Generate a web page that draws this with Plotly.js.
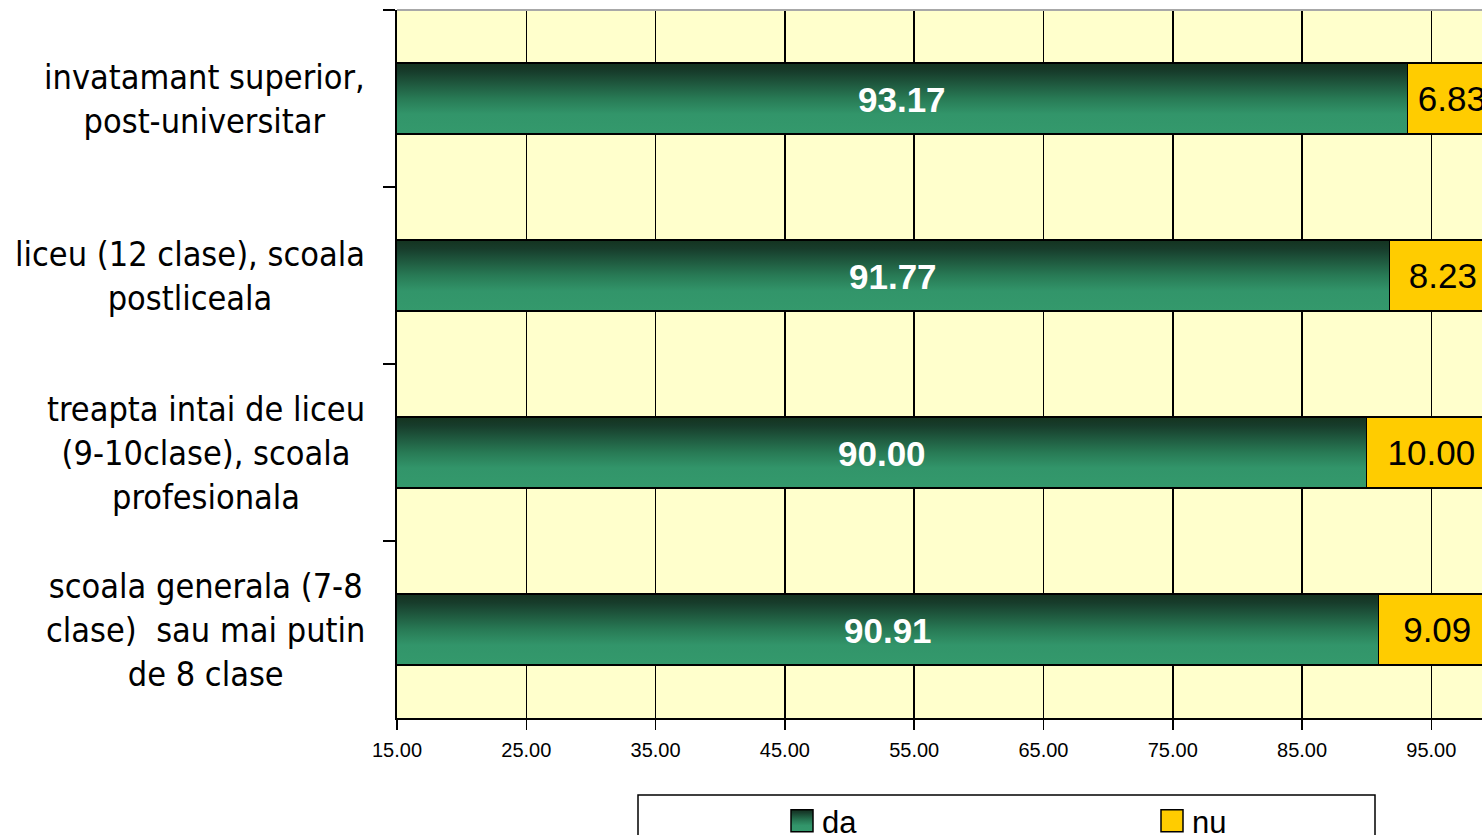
<!DOCTYPE html>
<html>
<head>
<meta charset="utf-8">
<script src="https://cdn.plot.ly/plotly-3.0.1.min.js"></script>
<style>
html,body{margin:0;padding:0;overflow:hidden;background:#fff;}
#chart{width:1496px;height:870px;}
</style>
</head>
<body>
<div id="chart"></div>
<script>
// Data (top-to-bottom order as shown)
const categories = [
  "invatamant superior,<br>post-universitar",
  "liceu (12 clase), scoala<br>postliceala",
  "treapta intai de liceu<br>(9-10clase), scoala<br>profesionala",
  "scoala generala (7-8<br>clase)  sau mai putin<br>de 8 clase"
];
const daValues = [93.17, 91.77, 90.00, 90.91];
const nuValues = [6.83, 8.23, 10.00, 9.09];
const seriesNames = ["da", "nu"];
const xRange = [15, 100];
const xTickStart = 15, xTickStep = 10;

const W = 1496, H = 870;
const L = 397, T = 10, B = H - 718;
const plotW = W - L, plotH = 718 - T;
const px2x = p => (p - L) / plotW;
const px2y = p => (718 - p) / plotH;

const labelFont = "Liberation Sans, Arial, sans-serif";

const data = [
  {
    type: "bar", orientation: "h", name: seriesNames[0],
    y: categories, x: daValues,
    width: 0.4,
    marker: {color: "#2f8f63", line: {color: "#000", width: 1.5}},
    textposition: "none",
    legend: "legend",
    hoverinfo: "none"
  },
  {
    type: "bar", orientation: "h", name: seriesNames[1],
    y: categories, x: nuValues,
    width: 0.4,
    marker: {color: "#ffcc00", line: {color: "#000", width: 1.5}},
    text: nuValues.map(v => v.toFixed(2)),
    textposition: "inside", insidetextanchor: "middle",
    textfont: {family: labelFont, size: 35, color: "#000000"},
    legend: "legend2",
    hoverinfo: "none"
  }
];

// category labels (block right-aligned, lines centered)
const annotations = categories.map(c => ({
  xref: "paper", yref: "y", x: px2x(367), y: c,
  xanchor: "right", yanchor: "middle", align: "center",
  text: c, showarrow: false,
  font: {family: "DejaVu Sans Condensed, DejaVu Sans, sans-serif", size: 34, color: "#000"}
}));
// green value labels centered on the visible part of the bar
daValues.forEach((v, i) => annotations.push({
  xref: "x", yref: "y", x: (xRange[0] + v) / 2, y: categories[i],
  xanchor: "center", yanchor: "middle", yshift: -1,
  text: "<b>" + v.toFixed(2) + "</b>", showarrow: false,
  font: {family: labelFont, size: 35, color: "#ffffff"}
}));

const legendCommon = {
  orientation: "h", xanchor: "left", yanchor: "top",
  y: px2y(794),
  font: {family: labelFont, size: 31, color: "#000"},
  bgcolor: "rgba(0,0,0,0)", borderwidth: 0
};

const layout = {
  width: W, height: H,
  margin: {l: L, r: 0, t: T, b: B, pad: 0, autoexpand: false},
  paper_bgcolor: "#ffffff",
  plot_bgcolor: "#ffffcc",
  barmode: "stack",
  showlegend: true,
  legend: Object.assign({}, legendCommon, {x: px2x(782)}),
  legend2: Object.assign({}, legendCommon, {x: px2x(1152)}),
  xaxis: {
    range: xRange,
    tick0: xTickStart, dtick: xTickStep,
    tickformat: ".2f",
    showgrid: true, gridcolor: "#000", gridwidth: 1.5,
    showline: true, linecolor: "#000", linewidth: 2,
    ticks: "outside", ticklen: 10, tickwidth: 1.5, tickcolor: "#000",
    ticklabelstandoff: 3,
    tickfont: {family: labelFont, size: 20, color: "#000"},
    zeroline: false, fixedrange: true
  },
  yaxis: {
    type: "category",
    autorange: "reversed",
    showticklabels: false,
    showgrid: false,
    showline: true, linecolor: "#000", linewidth: 2,
    ticks: "outside", ticklen: 12, tickwidth: 1.5, tickcolor: "#000",
    tickson: "boundaries",
    zeroline: false, fixedrange: true
  },
  annotations: annotations,
  shapes: [
    {type: "line", xref: "paper", yref: "paper", x0: 0, x1: 1, y0: 1, y1: 1,
     line: {color: "#a8a8a8", width: 2}},
    {type: "rect", xref: "paper", yref: "paper",
     x0: px2x(638), x1: px2x(1375), y0: px2y(795), y1: px2y(960),
     line: {color: "#000", width: 1.5}, fillcolor: "rgba(0,0,0,0)"}
  ]
};

const gd = document.getElementById("chart");
Plotly.newPlot(gd, data, layout, {displayModeBar: false, staticPlot: true}).then(function () {
  const ns = "http://www.w3.org/2000/svg";
  const svg = gd.querySelector("svg.main-svg");
  let defs = svg.querySelector("defs");
  if (!defs) { defs = document.createElementNS(ns, "defs"); svg.insertBefore(defs, svg.firstChild); }
  const lg = document.createElementNS(ns, "linearGradient");
  lg.setAttribute("id", "greenGrad");
  lg.setAttribute("x1", "0"); lg.setAttribute("y1", "0");
  lg.setAttribute("x2", "0"); lg.setAttribute("y2", "1");
  [[0, "#14331f"], [0.12, "#173c2b"], [0.5, "#287a55"], [0.72, "#32956a"], [1, "#34996c"]].forEach(s => {
    const st = document.createElementNS(ns, "stop");
    st.setAttribute("offset", s[0]);
    st.setAttribute("stop-color", s[1]);
    lg.appendChild(st);
  });
  defs.appendChild(lg);
  const traces = gd.querySelectorAll(".barlayer .trace");
  if (traces[0]) traces[0].querySelectorAll(".point path").forEach(p => { p.style.fill = "url(#greenGrad)"; });
  gd.querySelectorAll(".legendpoints path").forEach(p => {
    const g = p.closest(".traces");
    p.setAttribute("d", "M11,11H-11V-11H11Z");
    p.style.strokeWidth = "1.5px";
    if (g && g.textContent.trim() === seriesNames[0]) p.style.fill = "url(#greenGrad)";
  });
});
</script>
</body>
</html>
